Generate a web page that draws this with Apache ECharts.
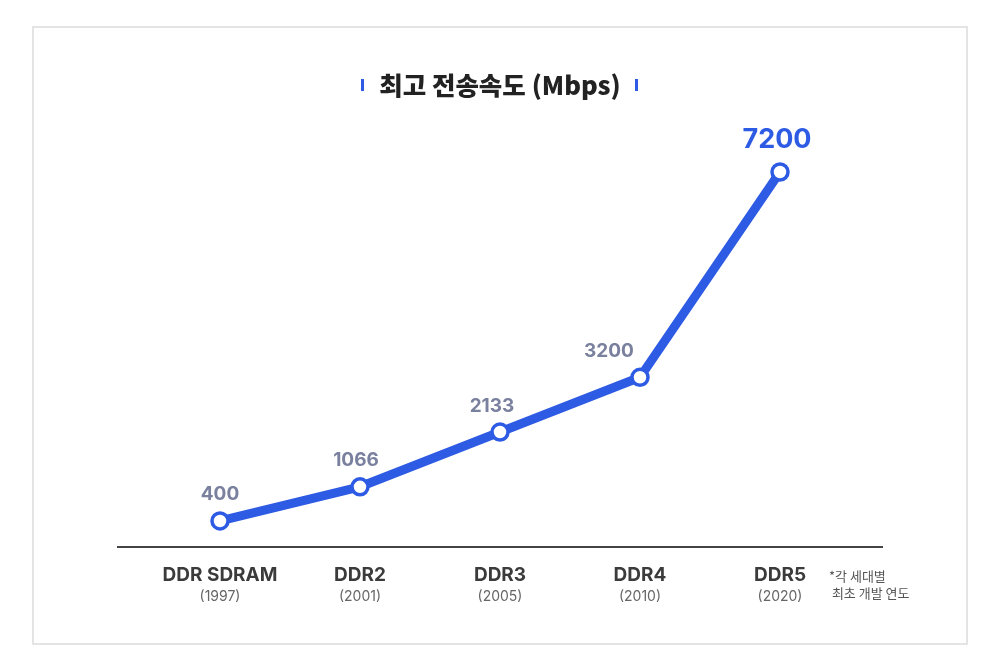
<!DOCTYPE html>
<html><head><meta charset="utf-8">
<script src="https://cdn.jsdelivr.net/npm/echarts@6/dist/echarts.min.js"></script>
<style>html,body{margin:0;padding:0;background:#fff}#c{width:1000px;height:663px}</style>
</head><body><div id="c"></div>
<script>
const categories = ['DDR SDRAM', 'DDR2', 'DDR3', 'DDR4', 'DDR5'];
const years = ['(1997)', '(2001)', '(2005)', '(2010)', '(2020)'];
const speeds = [400, 1066, 2133, 3200, 7200];
const titleText = '최고 전송속도 (Mbps)';
const footnote = ['*각 세대별', ' 최초 개발 연도'];
const labelOffsets = [[0, 0], [-4, 0], [-8, 0], [-31, 0], [-3, 0]];

const BLUE = '#2e5be4';
const FONT = 'Inter, "Noto Sans CJK KR", sans-serif';
const KFONT = '"Noto Sans CJK KR", Inter, sans-serif';

const chart = echarts.init(document.getElementById('c'));
const data = speeds.map((v, i) => {
  const last = i === speeds.length - 1;
  return {
    value: v,
    label: {
      offset: labelOffsets[i],
      color: last ? BLUE : '#7a819e',
      fontSize: last ? 27 : 19,
      distance: last ? 9 : 7
    }
  };
});
chart.setOption({
  backgroundColor: '#fff',
  animation: false,
  title: {
    text: titleText, left: 'center', top: 68,
    textStyle: {fontFamily: KFONT, fontSize: 25.5, fontWeight: 900, color: '#222'}
  },
  grid: {left: 150, right: 150, top: 172, bottom: 116},
  xAxis: {
    type: 'category', data: categories, boundaryGap: true,
    axisLine: {show: false}, axisTick: {show: false},
    axisLabel: {
      margin: 17,
      formatter: (v, i) => '{a|' + v + '}\n{b|' + years[i] + '}',
      rich: {
        a: {fontFamily: FONT, fontSize: 19, fontWeight: 'bold', color: '#3b3b3b', lineHeight: 23},
        b: {fontFamily: FONT, fontSize: 14, color: '#666', lineHeight: 20}
      }
    }
  },
  yAxis: {type: 'value', min: -107, max: 7200, show: false, splitLine: {show: false}},
  series: [{
    type: 'line', data: data,
    lineStyle: {color: BLUE, width: 9},
    symbol: 'circle', symbolSize: 16,
    itemStyle: {color: '#fff', borderColor: BLUE, borderWidth: 3.5},
    label: {show: true, position: 'top', fontFamily: FONT, fontWeight: 'bold'},
    z: 3
  }],
  graphic: [
    {type: 'rect', shape: {x: 33, y: 27, width: 934, height: 617}, style: {fill: 'none', stroke: '#e4e4e4', lineWidth: 2}, silent: true},
    {type: 'line', shape: {x1: 117, y1: 547, x2: 883, y2: 547}, style: {stroke: '#444', lineWidth: 2}},
    {type: 'rect', shape: {x: 361, y: 79, width: 3, height: 12}, style: {fill: BLUE}},
    {type: 'rect', shape: {x: 635, y: 79, width: 3, height: 12}, style: {fill: BLUE}},
    {type: 'text', left: 829, top: 568, style: {text: footnote.join('\n'), fontFamily: KFONT, fontSize: 13, lineHeight: 17, fill: '#555'}}
  ]
});
</script></body></html>
